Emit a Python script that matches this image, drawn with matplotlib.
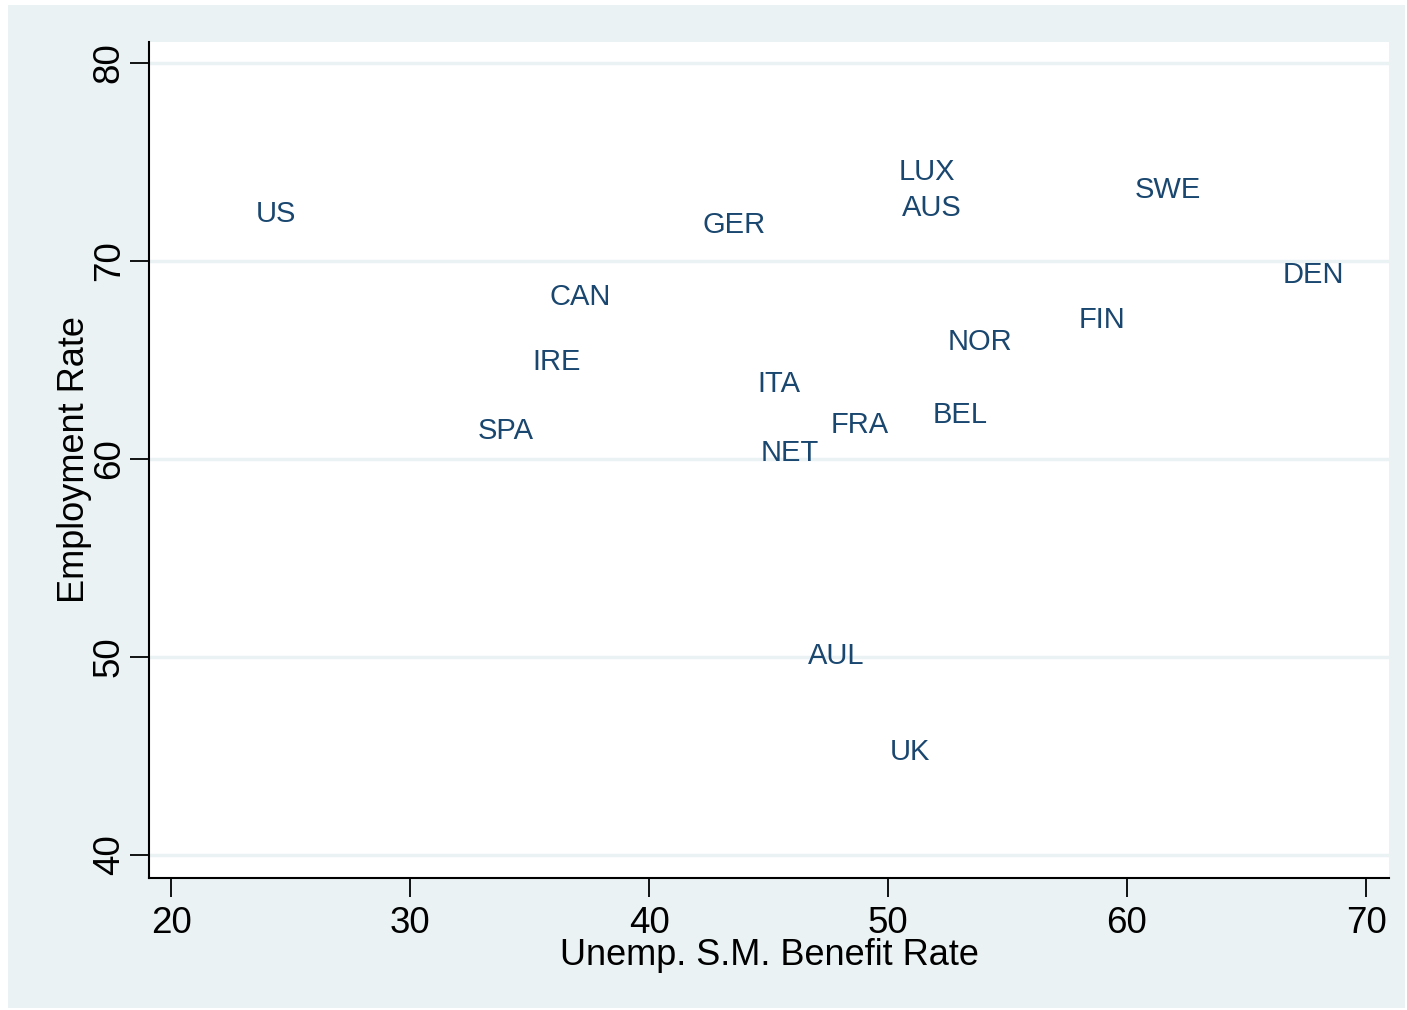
import matplotlib
matplotlib.use("Agg")
import matplotlib.pyplot as plt
from matplotlib.patches import Rectangle

countries = ["US", "CAN", "IRE", "SPA", "GER", "LUX", "AUS", "SWE", "DEN",
             "FIN", "NOR", "BEL", "FRA", "ITA", "NET", "AUL", "UK"]
benefit = [24.4, 37.1, 36.15, 34.0, 43.56, 51.63, 51.84, 61.7, 67.8,
           58.95, 53.85, 53.0, 48.8, 45.44, 45.9, 47.82, 50.92]
employment = [72.5, 68.3, 65.0, 61.5, 71.9, 74.6, 72.8, 73.7, 69.4,
              67.1, 66.0, 62.3, 61.8, 63.9, 60.4, 50.15, 45.3]
xticks = [20, 30, 40, 50, 60, 70]
yticks = [40, 50, 60, 70, 80]

plt.rcParams['font.family'] = ['Liberation Sans', 'DejaVu Sans']
W, H = 1407, 1010
fig = plt.figure(figsize=(W / 100, H / 100), dpi=100)
fig.patch.set_facecolor('white')
bg = '#EAF2F3'
fig.patches.append(Rectangle((8 / W, 1 - 1008 / H), (1405 - 8) / W, (1008 - 5) / H,
                             transform=fig.transFigure, facecolor=bg, edgecolor='none', zorder=-10))

ax = fig.add_axes([149 / W, 1 - 878 / H, (1389 - 149) / W, (878 - 42) / H])
ax.set_zorder(5)
ax.set_facecolor('white')
x0, x1 = 20, 70
px0, px1 = 171, 1366
scale = (x1 - x0) / (px1 - px0)
ax.set_xlim(x0 - (px0 - 149) * scale, x1 + (1389 - px1) * scale)
y0, y1 = 40, 80
py0, py1 = 855, 63
yscale = (y1 - y0) / (py0 - py1)
ax.set_ylim(y0 - (878 - py0) * yscale, y1 + (py1 - 42) * yscale)

for y in yticks:
    ax.axhline(y, color=bg, lw=2.5, zorder=1)

for c, xv, yv in zip(countries, benefit, employment):
    ax.text(xv, yv + 0.05, c, ha='center', va='center_baseline', fontsize=21,
            color='#1A476F', zorder=3)

ax.spines['top'].set_visible(False)
ax.spines['right'].set_visible(False)
for s in ['left', 'bottom']:
    ax.spines[s].set_linewidth(1.5)
    ax.spines[s].set_color('black')
ax.set_xticks(xticks)
ax.set_yticks(yticks)
ax.tick_params(axis='both', length=14, width=1.3, labelsize=26.5, pad=6)
ax.tick_params(axis='y', pad=2)
for lab in ax.get_yticklabels():
    lab.set_rotation(90)
    lab.set_va('center')
ax.set_xlabel('Unemp. S.M. Benefit Rate', fontsize=26, labelpad=-2)
ax.set_ylabel('Employment Rate', fontsize=26, labelpad=0)

fig.savefig('out.png', dpi=100, facecolor=fig.get_facecolor())
